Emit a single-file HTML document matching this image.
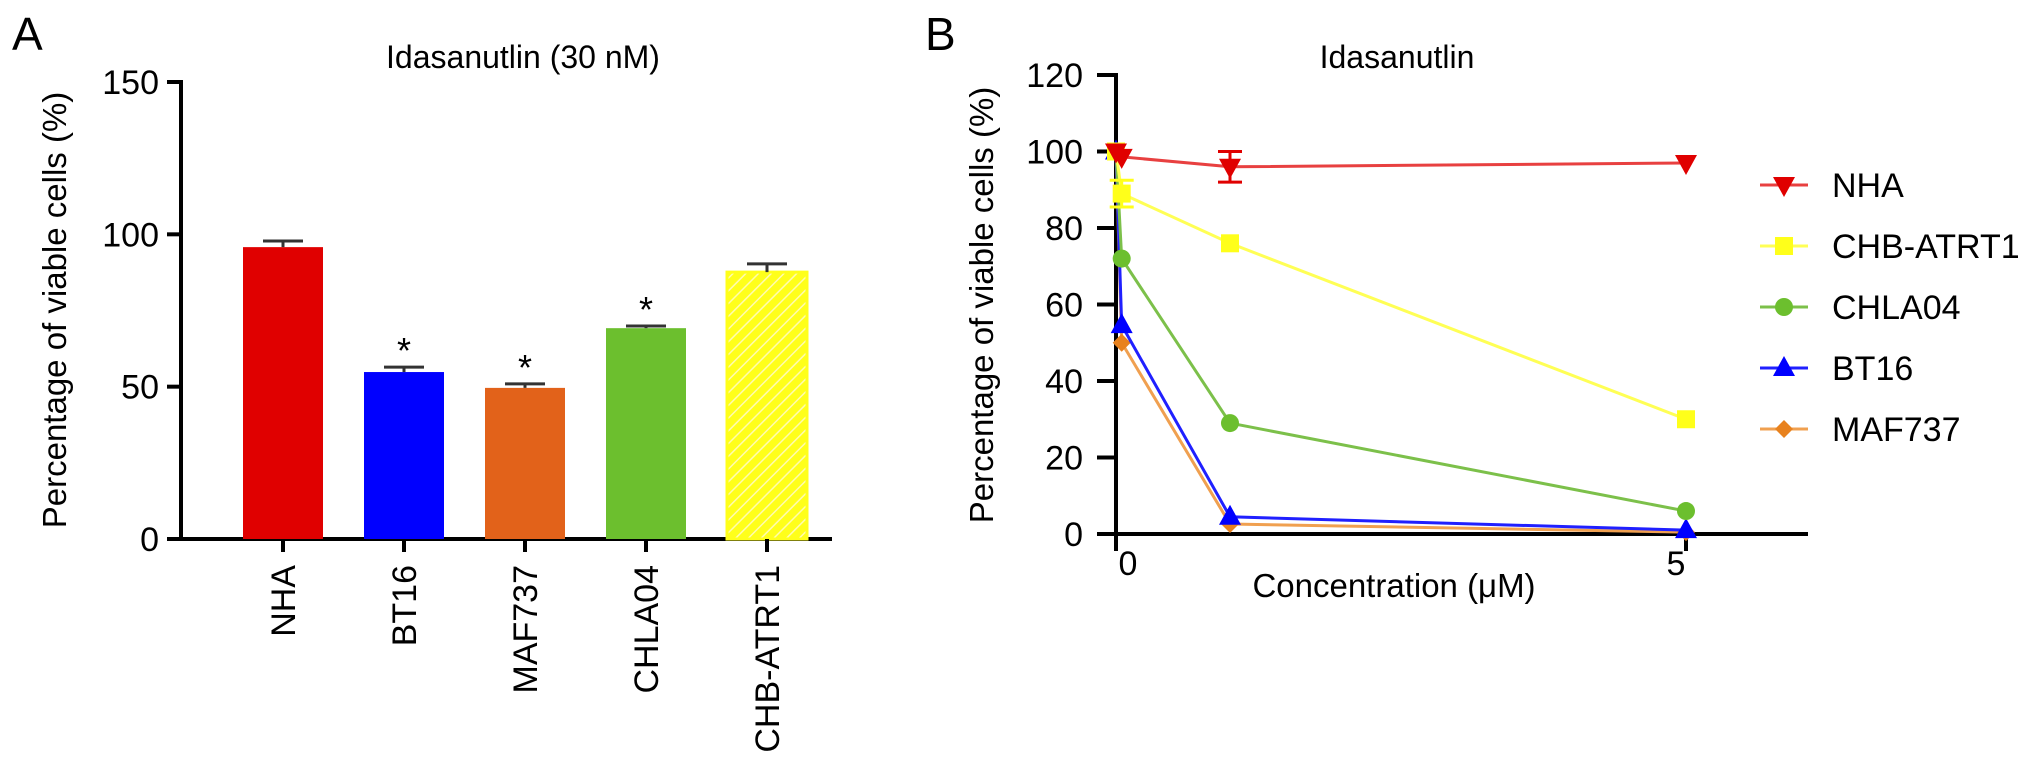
<!DOCTYPE html>
<html><head><meta charset="utf-8"><style>
html,body{margin:0;padding:0;background:#fff;}
svg{display:block;font-family:"Liberation Sans",Arial,sans-serif;}
</style></head><body>
<svg id="fig" width="2031" height="770" viewBox="0 0 2031 770" xmlns="http://www.w3.org/2000/svg">
<defs>
<pattern id="hatch" patternUnits="userSpaceOnUse" width="9" height="9" patternTransform="rotate(45)">
<rect width="9" height="9" fill="#ffff1a"/><line x1="0" y1="0" x2="0" y2="9" stroke="#fffbb0" stroke-width="3"/>
</pattern>
</defs>
<text x="12" y="50" font-size="46">A</text>
<text x="925" y="50" font-size="46">B</text>
<text x="523" y="68" font-size="32" text-anchor="middle">Idasanutlin (30 nM)</text>
<text x="1397" y="68" font-size="32" text-anchor="middle">Idasanutlin</text>
<text transform="translate(66,310) rotate(-90)" font-size="33" text-anchor="middle">Percentage of viable cells (%)</text>
<text transform="translate(993,305) rotate(-90)" font-size="33" text-anchor="middle">Percentage of viable cells (%)</text>
<text x="1394" y="597" font-size="33" text-anchor="middle">Concentration (μM)</text>
<g id="ga"></g>
<g id="gb"></g>
</svg>
<script>
// Panel A data
const catsA = ["NHA","BT16","MAF737","CHLA04","CHB-ATRT1"];
const valsA = [95.8, 54.8, 49.6, 69.2, 87.6];
const errA = [2.0, 1.6, 1.3, 0.7, 2.7];
const sigA = [false, true, true, true, false];
const ticksA = [0, 50, 100, 150];
// Panel B data
const concB = [0, 0.05, 1, 5];
const seriesNames = ["NHA","CHB-ATRT1","CHLA04","BT16","MAF737"];
const nhaVals = [100, 98.6, 96, 97];
const chbVals = [100, 89, 76, 30];
const chlaVals = [100, 72, 29, 6];
const bt16Vals = [100, 54.6, 4.5, 1];
const mafVals = [100, 50, 2.6, 0.5];
const nhaErr = [0, 0.5, 4, 0.5];
const chbErr = [0, 3.5, 0.5, 1];
const ticksB = [0, 20, 40, 60, 80, 100, 120];
const xTicksB = [0, 5];

const NS = "http://www.w3.org/2000/svg";
function mk(tag, attrs, parent){const e=document.createElementNS(NS,tag);for(const k in attrs)e.setAttribute(k,attrs[k]);parent.appendChild(e);return e;}

// ---- Panel A ----
const ga = document.getElementById("ga");
const yA = v => 539 - v * (539 - 82) / 150;
const xA = i => 283 + i * 121;
const colorsA = ["#e00000","#0000ff","#e2621a","#6cbf2e","url(#hatch)"];
let ax = mk("line",{x1:181,y1:yA(150),x2:181,y2:yA(0),stroke:"#000","stroke-width":4},ga);


let axx = mk("line",{x1:179,y1:yA(0),x2:832,y2:yA(0),stroke:"#000","stroke-width":4},ga);


ticksA.forEach(t=>{
  const l=mk("line",{x1:167,y1:yA(t),x2:183,y2:yA(t),stroke:"#000","stroke-width":4},ga);
  
  
  const tx=mk("text",{x:159,y:yA(t)+12,"font-size":34,"text-anchor":"end"},ga);
  tx.textContent=t;
  
  
});
catsA.forEach((c,i)=>{
  const cx=xA(i), w=80;
  const bar=mk("rect",{x:cx-w/2,y:yA(valsA[i]),width:w,height:yA(0)-yA(valsA[i]),fill:colorsA[i]},ga);
  if(i===4){bar.setAttribute("stroke","#ffff1a");bar.setAttribute("stroke-width","3");}
  
  
  const top=yA(valsA[i]+errA[i]);
  const e1=mk("line",{x1:cx,y1:top,x2:cx,y2:yA(valsA[i]),stroke:"#333","stroke-width":3},ga);
  
  
  const e2=mk("line",{x1:cx-20,y1:top,x2:cx+20,y2:top,stroke:"#333","stroke-width":3},ga);
  
  
  const tk=mk("line",{x1:cx,y1:yA(0),x2:cx,y2:yA(0)+13,stroke:"#000","stroke-width":4},ga);
  
  
  const lb=mk("text",{transform:`translate(${cx+12},565) rotate(-90)`,"font-size":34,"text-anchor":"end"},ga);
  lb.textContent=c;
  
  
  if(sigA[i]){
    const st=mk("text",{x:cx,y:top-4,"font-size":36,"text-anchor":"middle"},ga);
    st.textContent="*";
    
    
  }
});

// ---- Panel B ----
const gb = document.getElementById("gb");
const yB = v => 534 - v * (534 - 75) / 120;
const xB = c => 1116 + c * 114;
const bAx=mk("line",{x1:1116,y1:yB(120),x2:1116,y2:yB(0)+16,stroke:"#000","stroke-width":4},gb);


const bAxx=mk("line",{x1:1097,y1:yB(0),x2:1808,y2:yB(0),stroke:"#000","stroke-width":4},gb);


ticksB.forEach(t=>{
  const l=mk("line",{x1:1097,y1:yB(t),x2:1118,y2:yB(t),stroke:"#000","stroke-width":4},gb);
  
  
  const tx=mk("text",{x:1083,y:yB(t)+12,"font-size":34,"text-anchor":"end"},gb);
  tx.textContent=t;
  
  
});
xTicksB.forEach(t=>{
  const l=mk("line",{x1:xB(t),y1:yB(0),x2:xB(t),y2:yB(0)+17,stroke:"#000","stroke-width":4},gb);
  
  
  const tx=mk("text",{x:xB(t)+(t===0?12:-10),y:yB(0)+41,"font-size":34,"text-anchor":"middle"},gb);
  tx.textContent=t;
  
  
});
const seriesVals=[nhaVals,chbVals,chlaVals,bt16Vals,mafVals];
const seriesErr=[nhaErr,chbErr,null,null,null];
const sColors=["#e00000","#ffff1a","#6cbf2e","#0000ff","#e8821e"];
const sLine=["#e84040","#ffff55","#7cc04a","#2020ff","#f0a050"];
const sShape=["tri-down","square","circle","tri-up","diamond"];
function marker(shape,cx,cy,fill,parent,s){
  s=s||1;let e;
  if(shape==="circle") e=mk("circle",{cx:cx,cy:cy,r:9*s,fill:fill},parent);
  else if(shape==="square") e=mk("rect",{x:cx-9*s,y:cy-9*s,width:18*s,height:18*s,fill:fill},parent);
  else if(shape==="tri-up") e=mk("polygon",{points:`${cx},${cy-12*s} ${cx-11*s},${cy+8*s} ${cx+11*s},${cy+8*s}`,fill:fill},parent);
  else if(shape==="tri-down") e=mk("polygon",{points:`${cx},${cy+12*s} ${cx-11*s},${cy-8*s} ${cx+11*s},${cy-8*s}`,fill:fill},parent);
  else e=mk("polygon",{points:`${cx},${cy-9*s} ${cx+9*s},${cy} ${cx},${cy+9*s} ${cx-9*s},${cy}`,fill:fill},parent);
  return e;
}
for(let si=seriesVals.length-1;si>=0;si--){
  const vals=seriesVals[si];
  const pts=vals.map((v,i)=>xB(concB[i])+","+yB(v)).join(" ");
  const pl=mk("polyline",{points:pts,fill:"none",stroke:sLine[si],"stroke-width":3},gb);
  
  
  vals.forEach((v,i)=>{
    const errs=seriesErr[si];
    if(errs&&errs[i]>1){
      const cx=xB(concB[i]);
      const eb=mk("path",{d:`M${cx},${yB(v+errs[i])}V${yB(v-errs[i])}M${cx-12},${yB(v+errs[i])}h24M${cx-12},${yB(v-errs[i])}h24`,stroke:sColors[si],"stroke-width":3,fill:"none"},gb);
      
      
    }
    const m=marker(sShape[si],xB(concB[i]),yB(v),sColors[si],gb);
    
    
  });
}
// Legend
seriesNames.forEach((n,i)=>{
  const y=185+i*61;
  const g=mk("g",{},gb);
  
  
  mk("line",{x1:1760,y1:y,x2:1808,y2:y,stroke:sLine[i],"stroke-width":3},g);
  marker(sShape[i],1784,y,sColors[i],g);
  const t=mk("text",{x:1832,y:y+12,"font-size":34},g);
  t.textContent=n;
});
</script>
</body></html>
